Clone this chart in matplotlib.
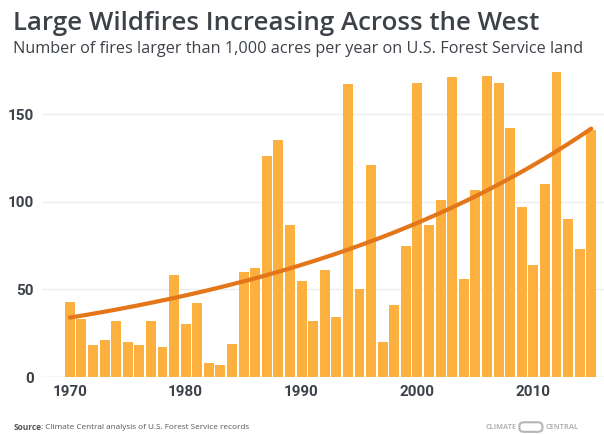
import matplotlib.pyplot as plt
import numpy as np
from matplotlib.patches import FancyBboxPatch

# data
years = list(range(1970, 2016))
fires = [43, 33, 18, 21, 32, 20, 18, 32, 17, 58,
         30, 42, 8, 7, 19, 60, 62, 126, 135, 87,
         55, 32, 61, 34, 167, 50, 121, 20, 41, 75,
         168, 87, 101, 171, 56, 107, 172, 168, 142, 97,
         64, 110, 174, 90, 73, 141]
yticks = [0, 50, 100, 150]
xticks = [1970, 1980, 1990, 2000, 2010]

bar_color = '#FBB040'
line_color = '#E4761A'
text_color = '#3d4249'
foot_color = '#555555'

fig = plt.figure(figsize=(6.04, 4.34), dpi=100)
ax = fig.add_axes([0.0695, 0.1313, 0.9305, 0.7187])

ax.bar(years, fires, width=0.86, color=bar_color, zorder=2)

# exponential trend, least squares on the counts themselves
t = np.array(years, dtype=float) - 1970
y = np.array(fires, dtype=float)
best = None
for b in np.linspace(0.0, 0.08, 801):
    e = np.exp(b * t)
    a = (y * e).sum() / (e * e).sum()
    err = ((y - a * e) ** 2).sum()
    if best is None or err < best[0]:
        best = (err, a, b)
_, a, b = best
tx = np.linspace(0, 45, 200)
ax.plot(tx + 1970, a * np.exp(b * tx), color=line_color, lw=3, zorder=3,
        solid_capstyle='round')

ax.set_xlim(1967.6, 2016.1)
ax.set_ylim(0, 178)
ax.set_yticks(yticks)
ax.set_xticks(xticks)
for s in ax.spines.values():
    s.set_visible(False)
ax.grid(axis='y', color='#ececec', lw=0.9, zorder=0)
ax.axhline(0, color='#dcdcdc', lw=1, zorder=1)
ax.tick_params(length=0, pad=6, colors=text_color)
for lab in ax.get_xticklabels() + ax.get_yticklabels():
    lab.set_family('Roboto')
    lab.set_fontweight('bold')
    lab.set_fontsize(11)

fig.text(0.022, 0.947, 'Large Wildfires Increasing Across the West',
         fontsize=18.6, color=text_color, family='Open Sans', weight=600, va='center')
fig.text(0.022, 0.888,
         'Number of fires larger than 1,000 acres per year on U.S. Forest Service land',
         fontsize=11.7, color=text_color, family='Open Sans', va='center')

# footer: bold "Source" then the rest right after it
src = fig.text(0.022, 0.016, 'Source', fontsize=6, color=foot_color,
               family='Open Sans', weight='bold', va='center')
ax.annotate(': Climate Central analysis of U.S. Forest Service records',
            xy=(1, 0.5), xycoords=src, va='center', fontsize=5.9,
            color=foot_color, family='Open Sans', annotation_clip=False)

fig.text(0.855, 0.016, 'CLIMATE', fontsize=5.3, color='#b5b5b5', family='Open Sans',
         weight='bold', va='center', ha='right')
fig.text(0.903, 0.016, 'CENTRAL', fontsize=5.3, color='#b5b5b5', family='Open Sans',
         weight='bold', va='center', ha='left')
logo = FancyBboxPatch((0.862, 0.007), 0.034, 0.018,
                      boxstyle='round,pad=0.002,rounding_size=0.008',
                      transform=fig.transFigure, fc='none', ec='#b5b5b5', lw=1.5)
fig.patches.append(logo)

fig.savefig('out.png', dpi=100, facecolor='white')
